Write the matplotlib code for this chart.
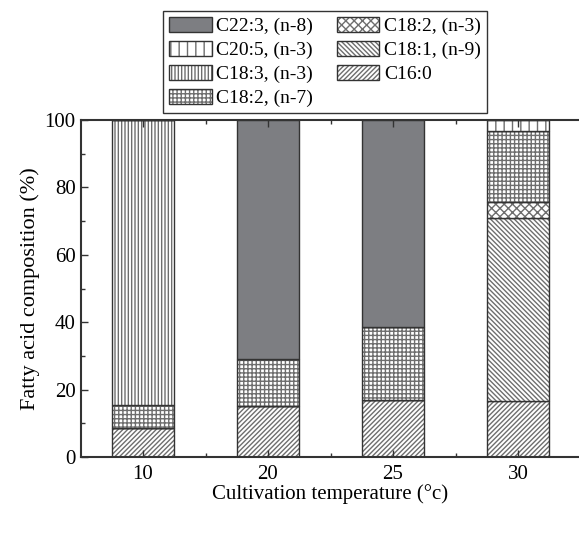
import matplotlib
matplotlib.use('Agg')
import matplotlib.pyplot as plt
import numpy as np

plt.rcParams['font.family'] = ['Liberation Serif', 'DejaVu Serif']
plt.rcParams['hatch.linewidth'] = 1.0

temps = ['10', '20', '25', '30']

# stacked from bottom to top
c16_0 = [8.5, 15.0, 17.0, 16.7]
c18_1_n9 = [0, 0, 0, 54.3]
c18_2_n3 = [0, 0, 0, 4.8]
c18_2_n7 = [7.0, 14.0, 21.7, 21.0]
c18_3_n3 = [84.5, 0, 0, 0]
c20_5_n3 = [0, 0, 0, 3.2]
c22_3_n8 = [0, 71.0, 61.3, 0]

series = [
    ('C16:0', c16_0, 'white', '/' * 7),
    ('C18:1, (n-9)', c18_1_n9, 'white', '\\' * 7),
    ('C18:2, (n-3)', c18_2_n3, 'white', 'xxxx'),
    ('C18:2, (n-7)', c18_2_n7, 'white', '+' * 4),
    ('C18:3, (n-3)', c18_3_n3, 'white', '|' * 5),
    ('C20:5, (n-3)', c20_5_n3, 'white', '||'),
    ('C22:3, (n-8)', c22_3_n8, '#7d7e82', None),
]

fig = plt.figure(figsize=(5.79, 5.42), dpi=100)
ax = fig.add_axes([80.5 / 579, 85 / 542, 500 / 579, 337 / 542])

x = np.arange(len(temps))
bottom = np.zeros(len(temps))
handles = {}
for name, vals, color, hatch in series:
    vals = np.array(vals, dtype=float)
    # hatch in grey, outline in dark grey on top
    b1 = ax.bar(x, vals, width=0.5, bottom=bottom, color=color, hatch=hatch,
                edgecolor='#6e6e6e', linewidth=0)
    b2 = ax.bar(x, vals, width=0.5, bottom=bottom, fill=False,
                edgecolor='#333333', linewidth=1.0)
    handles[name] = (b1, b2)
    bottom += vals

order = ['C22:3, (n-8)', 'C20:5, (n-3)', 'C18:3, (n-3)', 'C18:2, (n-7)',
         'C18:2, (n-3)', 'C18:1, (n-9)', 'C16:0']
fig.legend([handles[n] for n in order], order, ncol=2, loc='upper left',
           bbox_to_anchor=(163 / 579, 1 - 11 / 542), fontsize=14,
           frameon=True, fancybox=False, edgecolor='#333333', framealpha=1,
           handlelength=2.2, handleheight=0.8, columnspacing=1.2,
           handletextpad=0.25, labelspacing=0.3, borderpad=0.3,
           borderaxespad=0)

ax.set_xlim(-0.5, 3.5)
ax.set_ylim(0, 100)
ax.set_xticks(x)
ax.set_xticklabels(temps)
ax.set_xticks([0.5, 1.5, 2.5], minor=True)
ax.set_yticks(np.arange(0, 101, 20))
ax.set_yticks(np.arange(0, 101, 10), minor=True)
ax.tick_params(axis='both', which='both', direction='in', labelsize=15,
               color='#333333', width=1.0, top=True)
ax.tick_params(which='major', length=5)
ax.tick_params(which='minor', length=3)
ax.tick_params(axis='x', pad=6)
for s in ax.spines.values():
    s.set_linewidth(1.5)
    s.set_color('#333333')

ax.set_xlabel('Cultivation temperature (°c)', fontsize=15, labelpad=0)
ax.set_ylabel('Fatty acid composition (%)', fontsize=16, labelpad=3)

fig.savefig('out.png', dpi=100)
